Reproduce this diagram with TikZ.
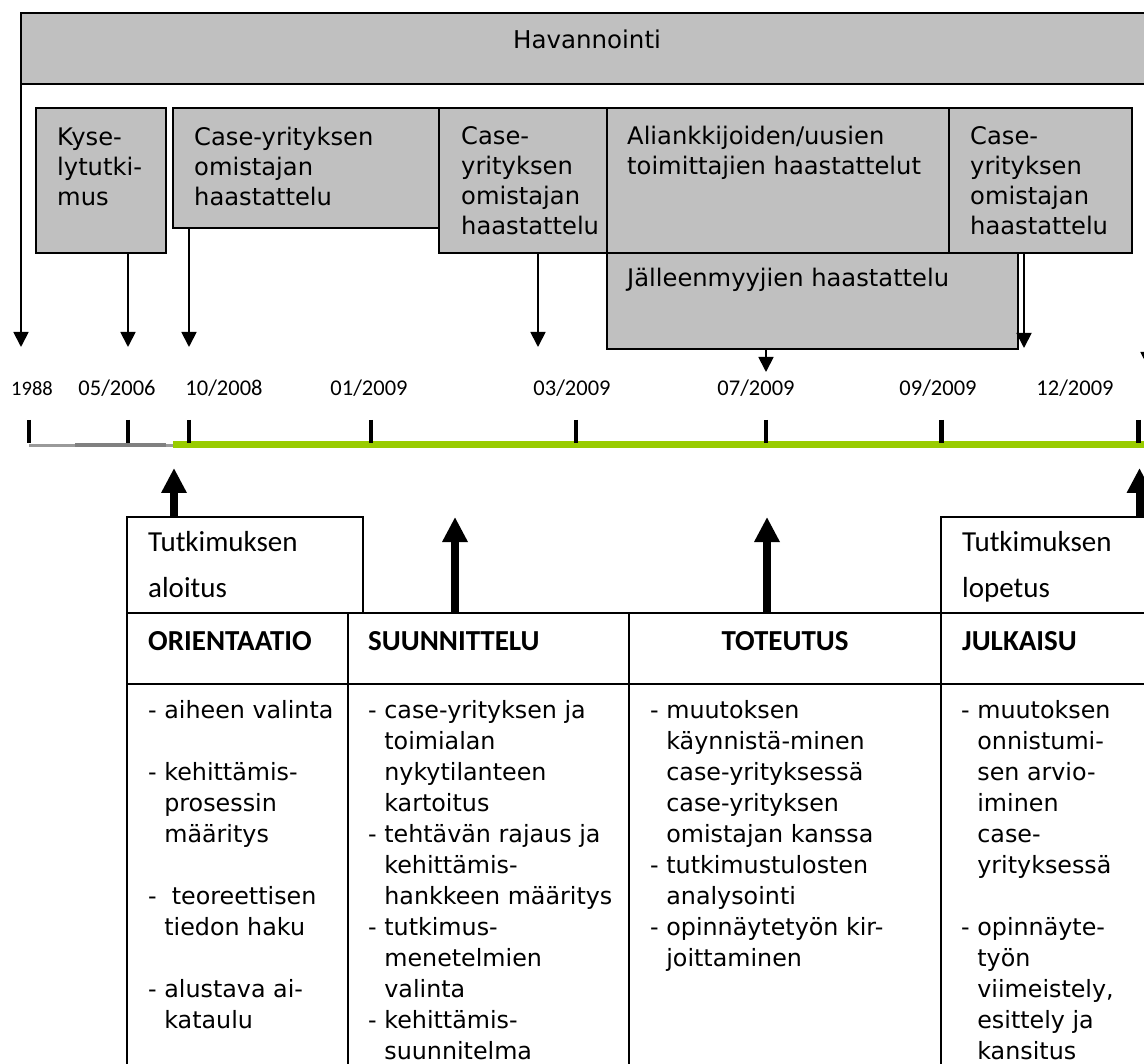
\documentclass[tikz,border=0pt]{standalone}
\usepackage{fontspec}
\setmainfont{DejaVu Sans}
\newfontfamily\calfont{Carlito}
\usetikzlibrary{arrows.meta}
\definecolor{boxgray}{HTML}{C0C0C0}
\definecolor{linegreen}{HTML}{99CC00}
\definecolor{axisgray}{HTML}{9A9A9A}
\definecolor{axisdark}{HTML}{808080}
\newcommand\indt{\hphantom{-\ }}
\begin{document}
\begin{tikzpicture}[x=1pt,y=-1pt,
  gbox/.style={draw=black,line width=2pt,fill=boxgray,anchor=north west,inner sep=0pt,outer sep=0pt},
  cell/.style={draw=black,line width=2pt,anchor=north west,inner sep=0pt,outer sep=0pt},
  txt/.style={anchor=base west,inner sep=0pt,font=\fontsize{23.8}{31}\selectfont},
  btxt/.style={anchor=base west,inner sep=0pt,font=\fontsize{24.2}{31}\selectfont},
  ctxt/.style={anchor=base west,inner sep=0pt,font=\calfont\fontsize{29}{34}\selectfont},
  htxt/.style={anchor=base west,inner sep=0pt,font=\calfont\bfseries\fontsize{29}{34}\selectfont},
  date/.style={anchor=base,inner sep=0pt,font=\calfont\fontsize{22.5}{27}\selectfont},
  thinarrow/.style={draw=black,line width=1.8pt,-{Triangle[width=15pt,length=15pt]}},
  bigarrow/.style={draw=black,line width=8pt,-{Triangle[width=24pt,length=25pt]}},
  tick/.style={draw=black,line width=4.5pt}
]
\useasboundingbox (0,0) rectangle (1144,1064);
\clip (0,0) rectangle (1144,1064);

% observation band
\node[gbox,minimum width=1160pt,minimum height=71.5pt] (hav) at (21,12.7) {};
\node[anchor=base,inner sep=0pt,font=\fontsize{24.5}{31}\selectfont] (havt) at (587,49) {Havannointi};

% interview boxes
\node[gbox,minimum width=267pt,minimum height=120pt] (c1) at (173,108) {};
\node[gbox,minimum width=168pt,minimum height=145pt] (c2) at (439,108) {};
\node[gbox,minimum width=342pt,minimum height=145pt] (ali) at (607,108) {};
\node[gbox,minimum width=183pt,minimum height=145pt] (c3) at (949,108) {};
\node[gbox,minimum width=411pt,minimum height=96pt] (jal) at (607,253) {};
\node[gbox,minimum width=130pt,minimum height=145pt] (kys) at (36,108) {};

\node[btxt] (kyst1) at (57,146) {Kyse-};
\node[btxt] (kyst2) at (57,176) {lytutki-};
\node[btxt] (kyst3) at (57,206) {mus};
\node[btxt] (c1t1) at (194,146) {Case-yrityksen};
\node[btxt] (c1t2) at (194,176) {omistajan};
\node[btxt] (c1t3) at (194,206) {haastattelu};
\node[btxt] (c2t1) at (461,145) {Case-};
\node[btxt] (c2t2) at (461,175) {yrityksen};
\node[btxt] (c2t3) at (461,205) {omistajan};
\node[btxt] (c2t4) at (461,235) {haastattelu};
\node[btxt] (alit1) at (627,145) {Aliankkijoiden/uusien};
\node[btxt] (alit2) at (627,175) {toimittajien haastattelut};
\node[btxt] (c3t1) at (970,145) {Case-};
\node[btxt] (c3t2) at (970,175) {yrityksen};
\node[btxt] (c3t3) at (970,205) {omistajan};
\node[btxt] (c3t4) at (970,235) {haastattelu};
\node[btxt] (jalt) at (627,287) {Jälleenmyyjien haastattelu};

% arrow ends above the time line
\coordinate (dA) at (21,347);
\coordinate (dB) at (128,347);
\coordinate (dC) at (189,347);
\coordinate (dD) at (538,347);
\coordinate (dE) at (766,372);
\coordinate (dF) at (1024,348);
\coordinate (dG) at (1148,367);
\draw[thinarrow] (hav.south west) -- (dA);
\draw[thinarrow] (kys.south -| dB) -- (dB);
\draw[thinarrow] (c1.south -| dC) -- (dC);
\draw[thinarrow] (c2.south -| dD) -- (dD);
\draw[thinarrow] (jal.south -| dE) -- (dE);
\draw[thinarrow] (c3.south -| dF) -- (dF);
\draw[thinarrow] (hav.south -| dG) -- (dG);

% dates
\node[date,font=\calfont\fontsize{20.5}{25}\selectfont] (y1) at (32,396) {1988};
\node[date] (y2) at (117,396) {05/2006};
\node[date] (y3) at (224,396) {10/2008};
\node[date] (y4) at (369,396) {01/2009};
\node[date] (y5) at (572,396) {03/2009};
\node[date] (y6) at (756,396) {07/2009};
\node[date] (y7) at (938,396) {09/2009};
\node[date] (y8) at (1075,396) {12/2009};

% time line
\draw[axisgray,line width=2.3pt] (29,445.5) -- (173,445.5);
\draw[axisdark,line width=4pt] (75,444.7) -- (166,444.7);
\draw[linegreen,line width=7.6pt] (173,444.5) -- (1150,444.5);
\foreach \x in {29,128,189,371,576,766,941.5,1138.5}
  \draw[tick] (\x,420) -- (\x,443);

% phase table
\node[cell,minimum width=236pt,minimum height=96pt] (alo) at (127,517) {};
\node[cell,minimum width=230pt,minimum height=96pt] (lop) at (941,517) {};
\node[cell,minimum width=221pt,minimum height=71pt] (ori) at (127,613) {};
\node[cell,minimum width=281pt,minimum height=71pt] (suu) at (348,613) {};
\node[cell,minimum width=312pt,minimum height=71pt] (tot) at (629,613) {};
\node[cell,minimum width=230pt,minimum height=71pt] (jul) at (941,613) {};
\node[cell,minimum width=221pt,minimum height=400pt] (oriB) at (127,684) {};
\node[cell,minimum width=281pt,minimum height=400pt] (suuB) at (348,684) {};
\node[cell,minimum width=312pt,minimum height=400pt] (totB) at (629,684) {};
\node[cell,minimum width=230pt,minimum height=400pt] (julB) at (941,684) {};

\node[ctxt] (alot1) at (148,551) {Tutkimuksen};
\node[ctxt] (alot2) at (148,597) {aloitus};
\node[ctxt] (lopt1) at (962,551) {Tutkimuksen};
\node[ctxt] (lopt2) at (962,597) {lopetus};
\node[htxt] (orit) at (148,650) {ORIENTAATIO};
\node[htxt] (suut) at (368,650) {SUUNNITTELU};
\node[htxt,anchor=base] (tott) at (785,650) {TOTEUTUS};
\node[htxt] (jult) at (962,650) {JULKAISU};

% milestone arrows
\coordinate (uA) at (174,468);
\coordinate (uB) at (455,517);
\coordinate (uC) at (767,517);
\coordinate (uD) at (1139.5,468);
\draw[bigarrow] (alo.north -| uA) -- (uA);
\draw[bigarrow] (suu.north -| uB) -- (uB);
\draw[bigarrow] (tot.north -| uC) -- (uC);
\draw[bigarrow] (lop.north -| uD) -- (uD);

% phase contents
\foreach \k/\t in {0/{- aiheen valinta},2/{- kehittämis-},3/{\indt prosessin},
    4/{\indt määritys},6/{-\ \ teoreettisen},7/{\indt tiedon haku},
    9/{- alustava ai-},10/{\indt kataulu}}
  \node[txt] (oriL\k) at (148,{718+31*\k}) {\t};
\foreach \k/\t in {0/{- case-yrityksen ja},1/{\indt toimialan},2/{\indt nykytilanteen},
    3/{\indt kartoitus},4/{- tehtävän rajaus ja},5/{\indt kehittämis-},
    6/{\indt hankkeen määritys},7/{- tutkimus-},8/{\indt menetelmien},
    9/{\indt valinta},10/{- kehittämis-},11/{\indt suunnitelma}}
  \node[txt] (suuL\k) at (368,{718+31*\k}) {\t};
\foreach \k/\t in {0/{- muutoksen},1/{\indt käynnistä-minen},2/{\indt case-yrityksessä},
    3/{\indt case-yrityksen},4/{\indt omistajan kanssa},5/{- tutkimustulosten},
    6/{\indt analysointi},7/{- opinnäytetyön kir-},8/{\indt joittaminen}}
  \node[txt] (totL\k) at (650,{718+31*\k}) {\t};
\foreach \k/\t in {0/{- muutoksen},1/{\indt onnistumi-},2/{\indt sen arvio-},
    3/{\indt iminen},4/{\indt case-},5/{\indt yrityksessä},7/{- opinnäyte-},
    8/{\indt työn},9/{\indt viimeistely,},10/{\indt esittely ja},11/{\indt kansitus}}
  \node[txt] (julL\k) at (961,{718+31*\k}) {\t};
\end{tikzpicture}
\end{document}
